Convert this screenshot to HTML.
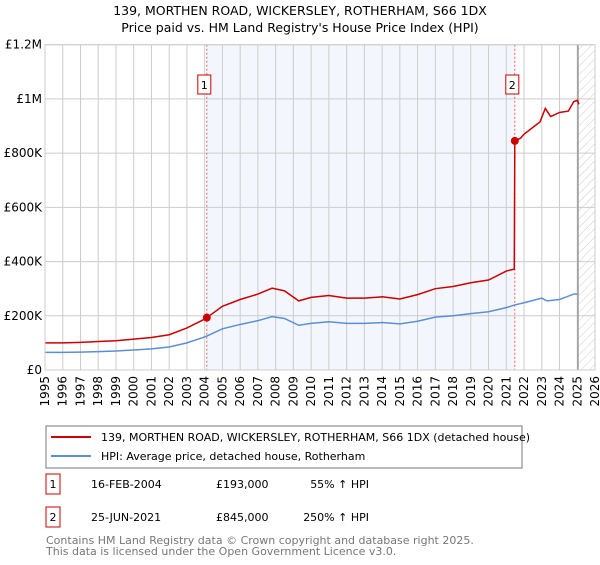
<!DOCTYPE html>
<html><head><meta charset="utf-8"><style>
body{margin:0;background:#fff;font-family:"Liberation Sans","DejaVu Sans",sans-serif;}
svg text{font-family:"DejaVu Sans","Liberation Sans",sans-serif;}
</style></head><body>
<svg id="c" width="600" height="560" xmlns="http://www.w3.org/2000/svg">
<defs><pattern id="hatch" width="6" height="6" patternUnits="userSpaceOnUse" patternTransform="rotate(45)"><line x1="0" y1="0" x2="0" y2="6" stroke="#ccc" stroke-width="1"/></pattern></defs>
<text x="300" y="15" text-anchor="middle" font-size="12.5" fill="#000">139, MORTHEN ROAD, WICKERSLEY, ROTHERHAM, S66 1DX</text>
<text x="300" y="32" text-anchor="middle" font-size="12.5" fill="#000">Price paid vs. HM Land Registry's House Price Index (HPI)</text>
<g id="plot"></g>
<g>
<rect x="46" y="426" width="476" height="42" fill="#fff" stroke="#777"/>
<line x1="51" y1="437" x2="91" y2="437" stroke="#cc0000" stroke-width="2"/>
<text x="101" y="441" font-size="11">139, MORTHEN ROAD, WICKERSLEY, ROTHERHAM, S66 1DX (detached house)</text>
<line x1="51" y1="456" x2="91" y2="456" stroke="#5b8fd4" stroke-width="2"/>
<text x="101" y="460" font-size="11">HPI: Average price, detached house, Rotherham</text>
</g>
<g>
<rect x="46" y="474" width="14" height="20" fill="#fff" stroke="#cc0000"/>
<text x="53" y="488" font-size="11" text-anchor="middle">1</text>
<text x="91" y="488" font-size="11">16-FEB-2004</text>
<text x="216" y="488" font-size="11">£193,000</text>
<text x="369" y="488" font-size="11" text-anchor="end">55% ↑ HPI</text>
</g>
<g>
<rect x="46" y="507" width="14" height="20" fill="#fff" stroke="#cc0000"/>
<text x="53" y="521" font-size="11" text-anchor="middle">2</text>
<text x="91" y="521" font-size="11">25-JUN-2021</text>
<text x="216" y="521" font-size="11">£845,000</text>
<text x="369" y="521" font-size="11" text-anchor="end">250% ↑ HPI</text>
</g>
<text x="46" y="544" font-size="11" fill="#777">Contains HM Land Registry data © Crown copyright and database right 2025.</text>
<text x="46" y="555" font-size="11" fill="#777">This data is licensed under the Open Government Licence v3.0.</text>
</svg>
<script>
const yTicks=[0,200000,400000,600000,800000,1000000,1200000];
const yTickLabels=["£0","£200K","£400K","£600K","£800K","£1M","£1.2M"];
const years=[1995,1996,1997,1998,1999,2000,2001,2002,2003,2004,2005,2006,2007,2008,2009,2010,2011,2012,2013,2014,2015,2016,2017,2018,2019,2020,2021,2022,2023,2024,2025,2026];
const hpiDates=[1995,1996,1997,1998,1999,2000,2001,2002,2003,2004,2004.12,2005,2006,2007,2007.8,2008.5,2009.3,2010,2011,2012,2013,2014,2015,2016,2017,2018,2019,2020,2021,2021.48,2022,2023,2023.3,2024,2024.8,2025];
const hpiValues=[65000,65000,66000,68000,70000,74000,78000,85000,100000,122000,125000,152000,168000,182000,197000,190000,165000,172000,178000,172000,172000,175000,170000,180000,195000,200000,208000,215000,230000,240000,248000,265000,255000,260000,280000,280000];
const redDates=[1995,1996,1997,1998,1999,2000,2001,2002,2003,2004,2004.12,2005,2006,2007,2007.8,2008.5,2009.3,2010,2011,2012,2013,2014,2015,2016,2017,2018,2019,2020,2021,2021.45,2021.48,2021.8,2022,2022.5,2022.9,2023.2,2023.5,2024,2024.5,2024.8,2025,2025.1];
const redValues=[100000,100000,102000,105000,108000,114000,120000,130000,155000,188000,193000,235000,260000,280000,302000,292000,255000,268000,275000,265000,265000,270000,262000,278000,300000,308000,322000,332000,365000,372000,845000,855000,870000,895000,915000,965000,935000,950000,955000,990000,995000,980000];
const sales=[{n:"1",d:2004.12,v:193000},{n:"2",d:2021.48,v:845000}];
const X0=45,X1=595,Y0=370,Y1=44.7,D0=1995,D1=2026,VMAX=1200000;
const xs=d=>X0+(d-D0)/(D1-D0)*(X1-X0);
const ys=v=>Y0-v/VMAX*(Y0-Y1);
const NS="http://www.w3.org/2000/svg";
const g=document.getElementById('plot');
function mk(t,a,p){const e=document.createElementNS(NS,t);for(const k in a)e.setAttribute(k,a[k]);(p||g).appendChild(e);return e;}
const bg=mk('rect',{x:xs(sales[0].d),y:Y1,width:xs(sales[1].d)-xs(sales[0].d),height:Y0-Y1,fill:'#eef3fc',opacity:0.7});


const ht=mk('rect',{x:xs(2025.04),y:Y1,width:X1-xs(2025.04),height:Y0-Y1,fill:'url(#hatch)'});


years.forEach(y=>{const l=mk('line',{x1:xs(y),x2:xs(y),y1:Y1,y2:Y0,stroke:'#ccc','stroke-width':1});


const t=mk('text',{x:0,y:0,'font-size':12,'text-anchor':'end',transform:`translate(${xs(y)+4},${Y0+6}) rotate(-90)`});t.textContent=y;

});
yTicks.forEach((v,i)=>{const l=mk('line',{x1:X0,x2:X1,y1:ys(v),y2:ys(v),stroke:'#ccc','stroke-width':1});


const t=mk('text',{x:X0-3,y:ys(v)+4,'font-size':12,'text-anchor':'end'});t.textContent=yTickLabels[i];

});
const nl=mk('line',{x1:xs(2025.04),x2:xs(2025.04),y1:Y1,y2:Y0,stroke:'#999','stroke-width':1.5});


sales.forEach(s=>{const l=mk('line',{x1:xs(s.d),x2:xs(s.d),y1:Y1,y2:Y0,stroke:'#e06666','stroke-width':1,'stroke-dasharray':'2,2'});


const b=mk('rect',{x:xs(s.d)-9,y:75,width:13,height:19,fill:'#fff',stroke:'#cc0000'});


const t=mk('text',{x:xs(s.d)-2.5,y:89,'font-size':11,'text-anchor':'middle'});t.textContent=s.n;

});
const hp=mk('polyline',{points:hpiDates.map((d,i)=>xs(d)+','+ys(hpiValues[i])).join(' '),fill:'none',stroke:'#5b8fd4','stroke-width':1.5});


const rp=mk('polyline',{points:redDates.map((d,i)=>xs(d)+','+ys(redValues[i])).join(' '),fill:'none',stroke:'#cc0000','stroke-width':1.5});


sales.forEach(s=>{const c=mk('circle',{cx:xs(s.d),cy:ys(s.v),r:4,fill:'#cc0000'});

});
const fr=mk('rect',{x:X0,y:Y1,width:X1-X0,height:Y0-Y1,fill:'none',stroke:'#ccc'});


</script>
</body></html>
